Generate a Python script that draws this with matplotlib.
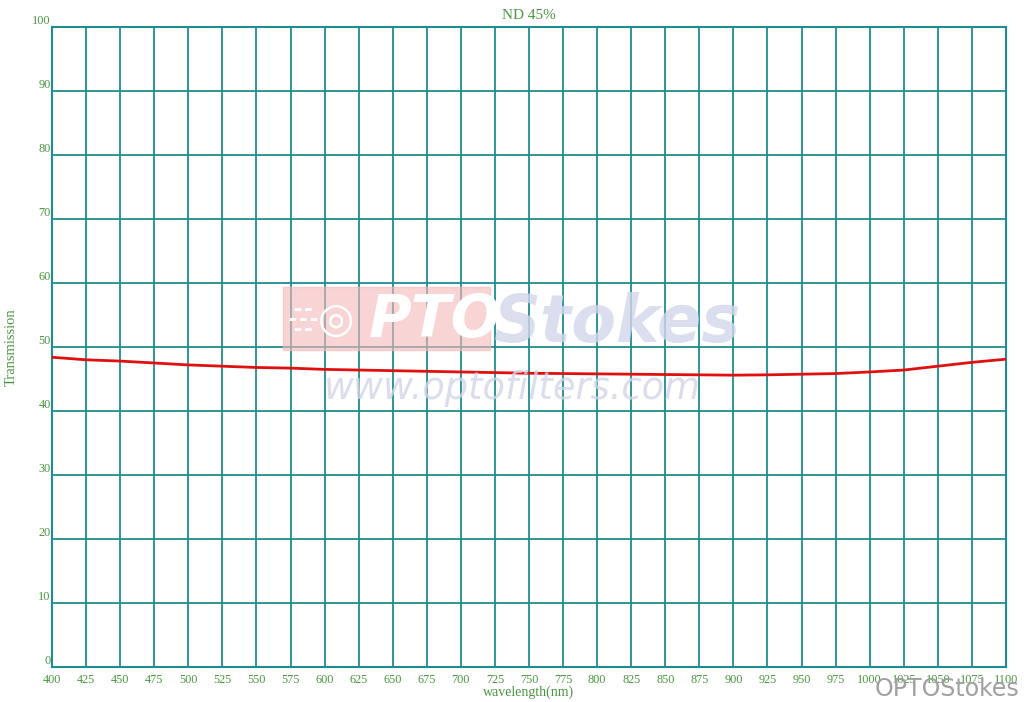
import matplotlib.pyplot as plt
from matplotlib.patches import Rectangle

# data
wavelength = [400, 425, 450, 475, 500, 525, 550, 575, 600, 625, 650, 675, 700,
              725, 750, 775, 800, 825, 850, 875, 900, 925, 950, 975, 1000,
              1025, 1050, 1075, 1100]
transmission = [48.4, 48.0, 47.8, 47.5, 47.2, 47.0, 46.8, 46.7, 46.5, 46.4, 46.3, 46.2, 46.1,
                46.0, 45.9, 45.85, 45.8, 45.75, 45.7, 45.65, 45.6, 45.65, 45.75, 45.85, 46.1,
                46.4, 47.0, 47.6, 48.1]
xticks = list(range(400, 1101, 25))
yticks = list(range(0, 101, 10))

grid_col = "#1f8c92"
text_col = "#4a9640"

plt.rcParams["font.family"] = ["Liberation Serif", "DejaVu Serif"]

fig = plt.figure(figsize=(10.24, 7.02), dpi=100)
ax = fig.add_axes([0.0508, 0.0499, 0.9316, 0.9116])

#watermark
fig.patches.append(Rectangle((0.276, 0.501), 0.203, 0.09, transform=fig.transFigure,
                             color="#f6b8b8", alpha=0.6, zorder=0))
fig.text(0.328, 0.545, "◎", fontsize=30, color="white", ha="center", va="center",
         family="DejaVu Sans", zorder=1)
fig.text(0.296, 0.545, "▬ ▬\n▬ ▬ ▬\n▬ ▬", fontsize=6, color="white", ha="center",
         va="center", family="DejaVu Sans", zorder=1, linespacing=1.1)
fig.text(0.425, 0.543, "PTO", fontsize=42, fontweight="bold", fontstyle="italic",
         color="white", ha="center", va="center", family="DejaVu Sans", zorder=1)
fig.text(0.602, 0.538, "Stokes", fontsize=47, fontweight="bold", fontstyle="italic",
         color="#d2d6ea", ha="center", va="center", family="DejaVu Sans", alpha=0.8)
fig.text(0.5, 0.447, "www.optofilters.com", fontsize=26.5, fontstyle="italic",
         color="#d2d5e8", ha="center", va="center", family="DejaVu Sans", alpha=0.8)

#plot data
ax.plot(wavelength, transmission, color="#e01010", linewidth=2, zorder=3)
ax.patch.set_alpha(0)

#configure axes
ax.set_xlim(400, 1100)
ax.set_ylim(0, 100)
ax.set_xticks(xticks)
ax.set_yticks(yticks)
ax.grid(True, color=grid_col, linewidth=1.3)
for s in ax.spines.values():
    s.set_color(grid_col)
    s.set_linewidth(1.5)
ax.tick_params(length=0, labelsize=8.8, colors=text_col, pad=5)
ax.tick_params(axis="y", pad=1)
for lab in ax.get_yticklabels():
    lab.set_verticalalignment("bottom")

#labels
ax.set_xlabel("wavelength(nm)", color=text_col, fontsize=10, labelpad=0)
ax.set_ylabel("Transmission", color=text_col, fontsize=10.5, labelpad=10)
ax.set_title("ND 45%", color=text_col, fontsize=11, pad=6)

fig.text(0.995, 0.002, "OPTOStokes", fontsize=17, color="#a0a0a0", ha="right",
         va="bottom", family="DejaVu Sans")

fig.savefig("out.png", dpi=100)
